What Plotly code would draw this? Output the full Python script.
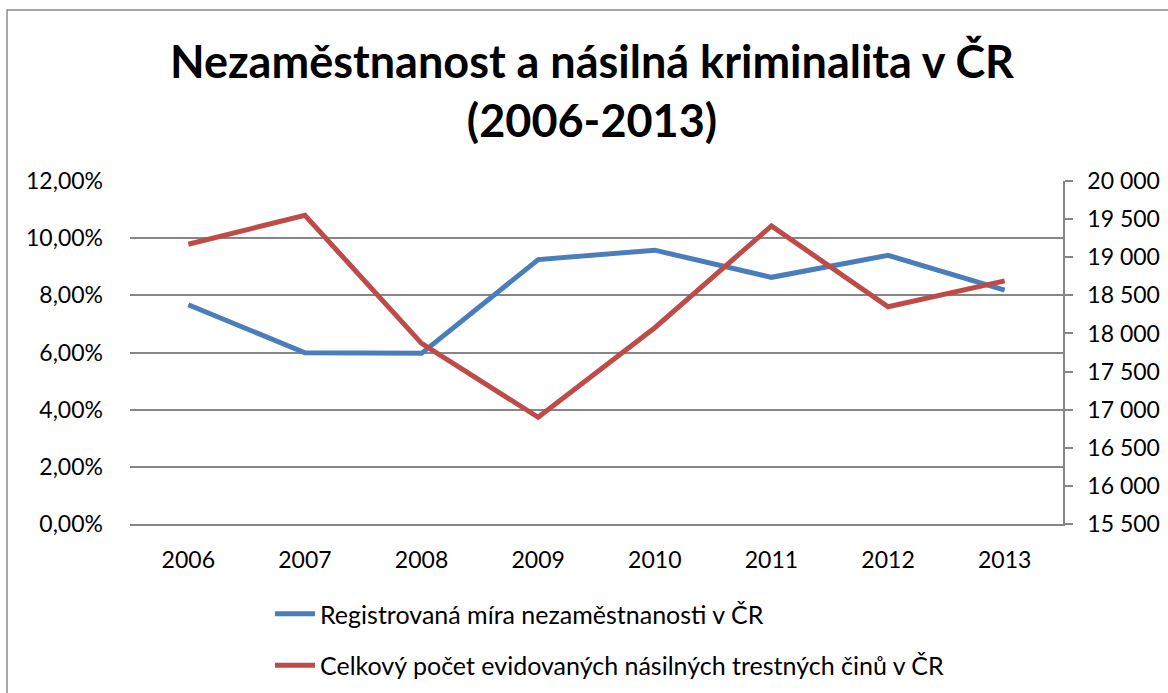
import plotly.graph_objects as go

years = ["2006", "2007", "2008", "2009", "2010", "2011", "2012", "2013"]
unemployment = [0.0767, 0.0599, 0.0597, 0.0925, 0.0958, 0.0863, 0.0940, 0.0818]
crimes = [19170, 19550, 17870, 16900, 18075, 19410, 18350, 18690]

name_unemp = "Registrovaná míra nezaměstnanosti v ČR"
name_crime = "Celkový počet evidovaných násilných trestných činů v ČR"
title_text = "Nezaměstnanost a násilná kriminalita v ČR<br>(2006-2013)"

FONT = "Lato"
GRID = "#868686"

fig = go.Figure()
fig.add_trace(go.Scatter(x=years, y=unemployment, name=name_unemp, mode="lines",
                         line=dict(color="#4A7EBB", width=5), legendgroup="a"))
fig.add_trace(go.Scatter(x=years, y=crimes, name=name_crime, mode="lines", yaxis="y2",
                         line=dict(color="#BE4B48", width=5), legendgroup="b"))

L, R, T, B = 130, 105, 181, 169
W, H = 1168, 693
pw = W - L - R
ph = H - T - B

def px_x(p):
    return (p - L) / pw

def px_y(p):
    return (H - B - p) / ph

fig.update_layout(
    width=W, height=H,
    margin=dict(l=L, r=R, t=T, b=B, autoexpand=False),
    paper_bgcolor="white", plot_bgcolor="white",
    separators=", ",
    font=dict(family=FONT, size=23, color="black"),
    title=dict(text=title_text, x=px_x(592), xref="paper", xanchor="center",
               y=1 - 78 / H, yref="container", yanchor="middle",
               font=dict(family=FONT, size=45, color="black", weight="bold")),
    xaxis=dict(type="category", range=[-0.5, 7.5], showgrid=False,
               showline=True, linecolor=GRID, linewidth=1.5,
               ticks="", ticklabelstandoff=15, tickfont=dict(size=23)),
    yaxis=dict(range=[0, 0.12], dtick=0.02, tickformat=".2%",
               showgrid=True, gridcolor=GRID, gridwidth=1.5,
               showline=False, zeroline=False, ticks="",
               ticklabelstandoff=26, tickfont=dict(size=23)),
    yaxis2=dict(range=[15500, 20000], dtick=500, tickformat=",d",
                overlaying="y", side="right", showgrid=False, zeroline=False,
                showline=True, linecolor=GRID, linewidth=1.5,
                ticks="outside", ticklen=8, tickcolor=GRID, tickwidth=1.5,
                ticklabelstandoff=10, tickfont=dict(size=23)),
    showlegend=True,
    legend=dict(x=px_x(270), xanchor="left", y=px_y(591), yanchor="top",
                traceorder="grouped", tracegroupgap=16,
                font=dict(family=FONT, size=25), bgcolor="rgba(0,0,0,0)",
                itemwidth=40),
    shapes=[dict(type="rect", xref="paper", yref="paper",
                 x0=px_x(7), x1=px_x(1180), y0=px_y(710), y1=px_y(10),
                 line=dict(color="#8c8c8c", width=1.5), fillcolor="rgba(0,0,0,0)",
                 layer="below")],
)

fig.write_html("out.html", config={"displayModeBar": False},
               post_script="document.body.style.margin='0';")
